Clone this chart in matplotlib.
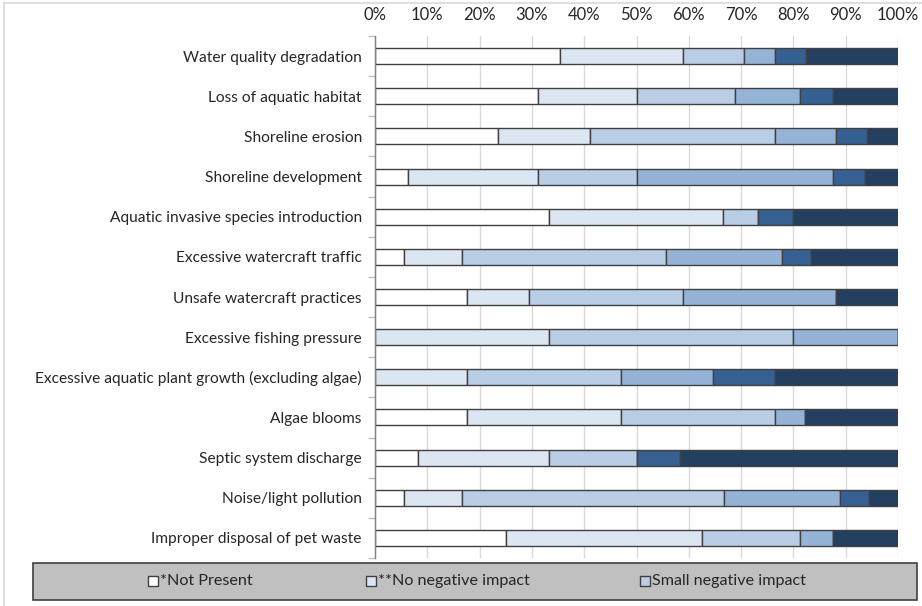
import matplotlib
matplotlib.use("Agg")
import matplotlib.pyplot as plt
from matplotlib.patches import Rectangle
from matplotlib.lines import Line2D
import numpy as np

categories = [
    "Water quality degradation",
    "Loss of aquatic habitat",
    "Shoreline erosion",
    "Shoreline development",
    "Aquatic invasive species introduction",
    "Excessive watercraft traffic",
    "Unsafe watercraft practices",
    "Excessive fishing pressure",
    "Excessive aquatic plant growth (excluding algae)",
    "Algae blooms",
    "Septic system discharge",
    "Noise/light pollution",
    "Improper disposal of pet waste",
]

# shares (%) per response level
not_present   = [35.3, 31.25, 23.5, 6.25, 33.3, 5.6, 17.6, 0.0, 0.0, 17.6, 8.3, 5.6, 25.0]
no_negative   = [23.5, 18.75, 17.6, 25.0, 33.3, 11.1, 11.8, 33.3, 17.6, 29.4, 25.0, 11.1, 37.5]
small_neg     = [11.8, 18.75, 35.3, 18.75, 6.7, 38.9, 29.4, 46.7, 29.4, 29.4, 16.7, 50.0, 18.75]
moderate_neg  = [5.9, 12.5, 11.8, 37.5, 0.0, 22.2, 29.4, 20.0, 17.6, 5.9, 0.0, 22.2, 6.25]
large_neg     = [5.9, 6.25, 5.9, 6.25, 6.7, 5.6, 0.0, 0.0, 11.8, 0.0, 8.3, 5.6, 0.0]
very_large    = [17.6, 12.5, 5.9, 6.25, 20.0, 16.7, 11.8, 0.0, 23.5, 17.6, 41.7, 5.5, 12.5]

series = [not_present, no_negative, small_neg, moderate_neg, large_neg, very_large]
series_names = ["*Not Present", "**No negative impact", "Small negative impact",
                "Moderate negative impact", "Large negative impact", "Very large negative impact"]
colors = ["#ffffff", "#dce6f2", "#b9cde5", "#95b3d7", "#376092", "#243f60"]
xtick_vals = list(range(0, 101, 10))
xtick_labels = [f"{v}%" for v in xtick_vals]

FONT = "Lato"
W, H = 922, 606
fig = plt.figure(figsize=(W / 100, H / 100), dpi=100)

def fx(px):
    return px / W

def fy(py):
    return 1 - py / H

ax = fig.add_axes([fx(375), fy(558), fx(898) - fx(375), fy(36) - fy(558)])

n = len(categories)
y = np.arange(n)
left = np.zeros(n)
for vals, col, name in zip(series, colors, series_names):
    v = np.array(vals, dtype=float)
    ax.barh(y, v, left=left, height=0.4, color=col, edgecolor="#404040",
            linewidth=1.0, label=name, zorder=3)
    left += v

ax.set_xlim(0, 100)
ax.set_ylim(n - 0.5, -0.5)
ax.xaxis.tick_top()
ax.set_xticks(xtick_vals)
ax.set_xticklabels(xtick_labels, fontsize=12, color="#262626", family=FONT)
ax.tick_params(axis="x", length=0, pad=9)
ax.set_yticks(y)
ax.set_yticklabels(categories, fontsize=11.2, color="#262626", family=FONT)
ax.tick_params(axis="y", which="major", length=0, pad=9.5)
ax.set_yticks(np.arange(-0.5, n, 1.0), minor=True)
ax.tick_params(axis="y", which="minor", length=5, color="#bfbfbf", width=1)
ax.grid(axis="x", color="#d9d9d9", linewidth=1, zorder=0)
for s in ["top", "right", "bottom"]:
    ax.spines[s].set_visible(False)
ax.spines["left"].set_color("#7f7f7f")
ax.spines["left"].set_linewidth(1)
ax.spines["left"].set_zorder(4)

# chart border (top/left visible)
fig.add_artist(Line2D([fx(4), 1], [fy(3), fy(3)], color="#d9d9d9", lw=1.2))
fig.add_artist(Line2D([fx(4), fx(4)], [fy(3), 0], color="#d9d9d9", lw=1.2))

# legend box
fig.add_artist(Rectangle((fx(33), fy(600)), fx(917) - fx(33), fy(563) - fy(600),
                         facecolor="#c0c0c0", edgecolor="#404040", lw=1.2))
legend_x = [148, 366, 640]
for lx, col, name in zip(legend_x, colors[:3], series_names[:3]):
    fig.add_artist(Rectangle((fx(lx), fy(586)), fx(10), 10 / H,
                             facecolor=col, edgecolor="#404040", lw=1.0))
    fig.text(fx(lx + 12), fy(581), name, fontsize=11.6, family=FONT,
             color="#262626", va="center", ha="left")

fig.savefig("out.png", dpi=100)
